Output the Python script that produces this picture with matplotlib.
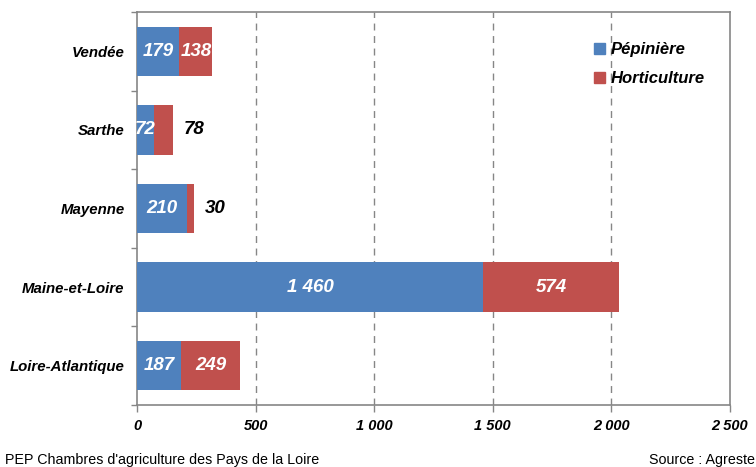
import matplotlib
matplotlib.use("Agg")
import matplotlib.pyplot as plt
import numpy as np
from matplotlib.ticker import FixedLocator, FuncFormatter
from matplotlib.patches import Patch

plt.rcParams['font.family'] = ['Liberation Sans', 'DejaVu Sans']

departements = ["Vendée", "Sarthe", "Mayenne", "Maine-et-Loire", "Loire-Atlantique"]
pepiniere = [179, 72, 210, 1460, 187]
horticulture = [138, 78, 30, 574, 249]
# labels drawn outside (in black) for the narrow horticulture segments
outside_horti = [False, True, True, False, False]
xticks = [0, 500, 1000, 1500, 2000, 2500]

blue = "#4F81BD"
red = "#C0504D"
grey = "#868686"


def fmt(v):
    return f"{int(v):,}".replace(",", " ")


fig = plt.figure(figsize=(7.56, 4.67), dpi=100)
ax = fig.add_axes([137/756, 1 - 405/467, (730 - 137)/756, (405 - 12)/467])

y = np.arange(len(departements))
h = 0.63
ax.barh(y, pepiniere, height=h, color=blue, zorder=3)
ax.barh(y, horticulture, left=pepiniere, height=h, color=red, zorder=3)

lab_font = dict(fontsize=13.5, fontweight='bold', fontstyle='italic')
for i in range(len(departements)):
    p, hv = pepiniere[i], horticulture[i]
    ax.text(p / 2, y[i], fmt(p), ha='center', va='center',
            color='white', zorder=4, **lab_font)
    if outside_horti[i]:
        ax.annotate(fmt(hv), xy=(p + hv, y[i]), xytext=(8, 0),
                    textcoords='offset points', ha='left', va='center',
                    color='black', zorder=4, **lab_font)
    else:
        ax.text(p + hv / 2, y[i], fmt(hv), ha='center', va='center',
                color='white', zorder=4, **lab_font)

ax.set_xlim(0, 2500)
ax.set_ylim(len(departements) - 0.5, -0.5)

# x axis
ax.xaxis.set_major_locator(FixedLocator(xticks))
ax.xaxis.set_major_formatter(FuncFormatter(lambda v, _: fmt(v)))
ax.tick_params(axis='x', direction='out', length=5, color=grey, width=1, pad=5,
               labelsize=10.5)
for lab in ax.get_xticklabels():
    lab.set_fontweight('bold')
    lab.set_fontstyle('italic')

# y axis: labels at categories, tick marks at category boundaries
ax.set_yticks(y)
ax.set_yticklabels(departements)
ax.tick_params(axis='y', which='major', length=0, pad=9, labelsize=10.8)
for lab in ax.get_yticklabels():
    lab.set_fontweight('bold')
    lab.set_fontstyle('italic')
ax.set_yticks(np.arange(-0.5, len(departements)), minor=True)
ax.tick_params(axis='y', which='minor', direction='out', length=4, color=grey, width=1)

# dashed vertical gridlines
for xv in xticks[1:-1]:
    ax.axvline(xv, color=grey, lw=1, ls=(0, (5, 4)), zorder=1)

for s in ax.spines.values():
    s.set_color(grey)
    s.set_linewidth(1.2)

# legend
handles = [Patch(color=blue, label="Pépinière"), Patch(color=red, label="Horticulture")]
ax.legend(handles=handles, loc='upper left', bbox_to_anchor=(0.746, 0.962),
          frameon=False, handlelength=0.65, handleheight=0.65, handletextpad=0.3,
          labelspacing=0.85, prop=dict(size=12, weight='bold', style='italic'))

fig.text(5/756, 1 - 460/467, "PEP Chambres d'agriculture des Pays de la Loire",
         ha='left', va='center', fontsize=10.3)
fig.text(755/756, 1 - 460/467, "Source : Agreste", ha='right', va='center', fontsize=10.3)

fig.savefig("out.png", dpi=100)
